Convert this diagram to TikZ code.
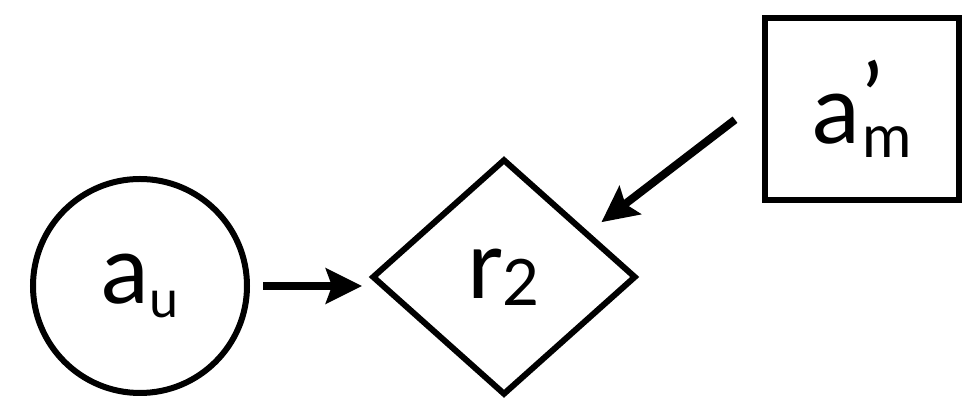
\documentclass[tikz,border=0pt]{standalone}
\usepackage{fontspec}
\setmainfont{Lato}
\usepackage{tikz}
\usetikzlibrary{arrows.meta,positioning,shapes.geometric,calc}
\newcommand{\bigtxt}{\fontsize{48}{48}\selectfont}
\newcommand{\lowsub}[3]{\raisebox{-#1}{\fontsize{#2}{#2}\selectfont #3}}

\begin{document}
\begin{tikzpicture}[
    x=0.5pt, y=-0.5pt,
    shape base/.style={draw=black, line width=3pt, fill=white, inner sep=0pt, font=\bigtxt},
    act/.style={shape base, circle, minimum size=107pt},
    rew/.style={shape base, diamond, minimum width=132pt, minimum height=118pt},
    mem/.style={shape base, rectangle, minimum width=97pt, minimum height=91pt},
    arrow/.style={-{Stealth[length=18pt, width=17.5pt, inset=3pt]}, line width=4pt, black}
  ]
    \useasboundingbox (0,0) rectangle (971,399);
    \node[act] (au) at (140,286) {a\lowsub{7pt}{26}{u}};
    \node[rew] (r2) at (504,277) {r\lowsub{3.5pt}{32}{2}};
    \node[mem] (am) at (862,109) {a\kern1pt\rlap{\raisebox{5pt}{’}}\lowsub{7pt}{30}{m}};
    \draw[arrow, shorten <=6.5pt, shorten >=3.5pt] (au.east) -- (au.east -| r2.west);
    \draw[arrow, shorten <=17pt, shorten >=8pt] ([yshift=5pt]am.west) -- (r2.28);
  \end{tikzpicture}
\end{document}
